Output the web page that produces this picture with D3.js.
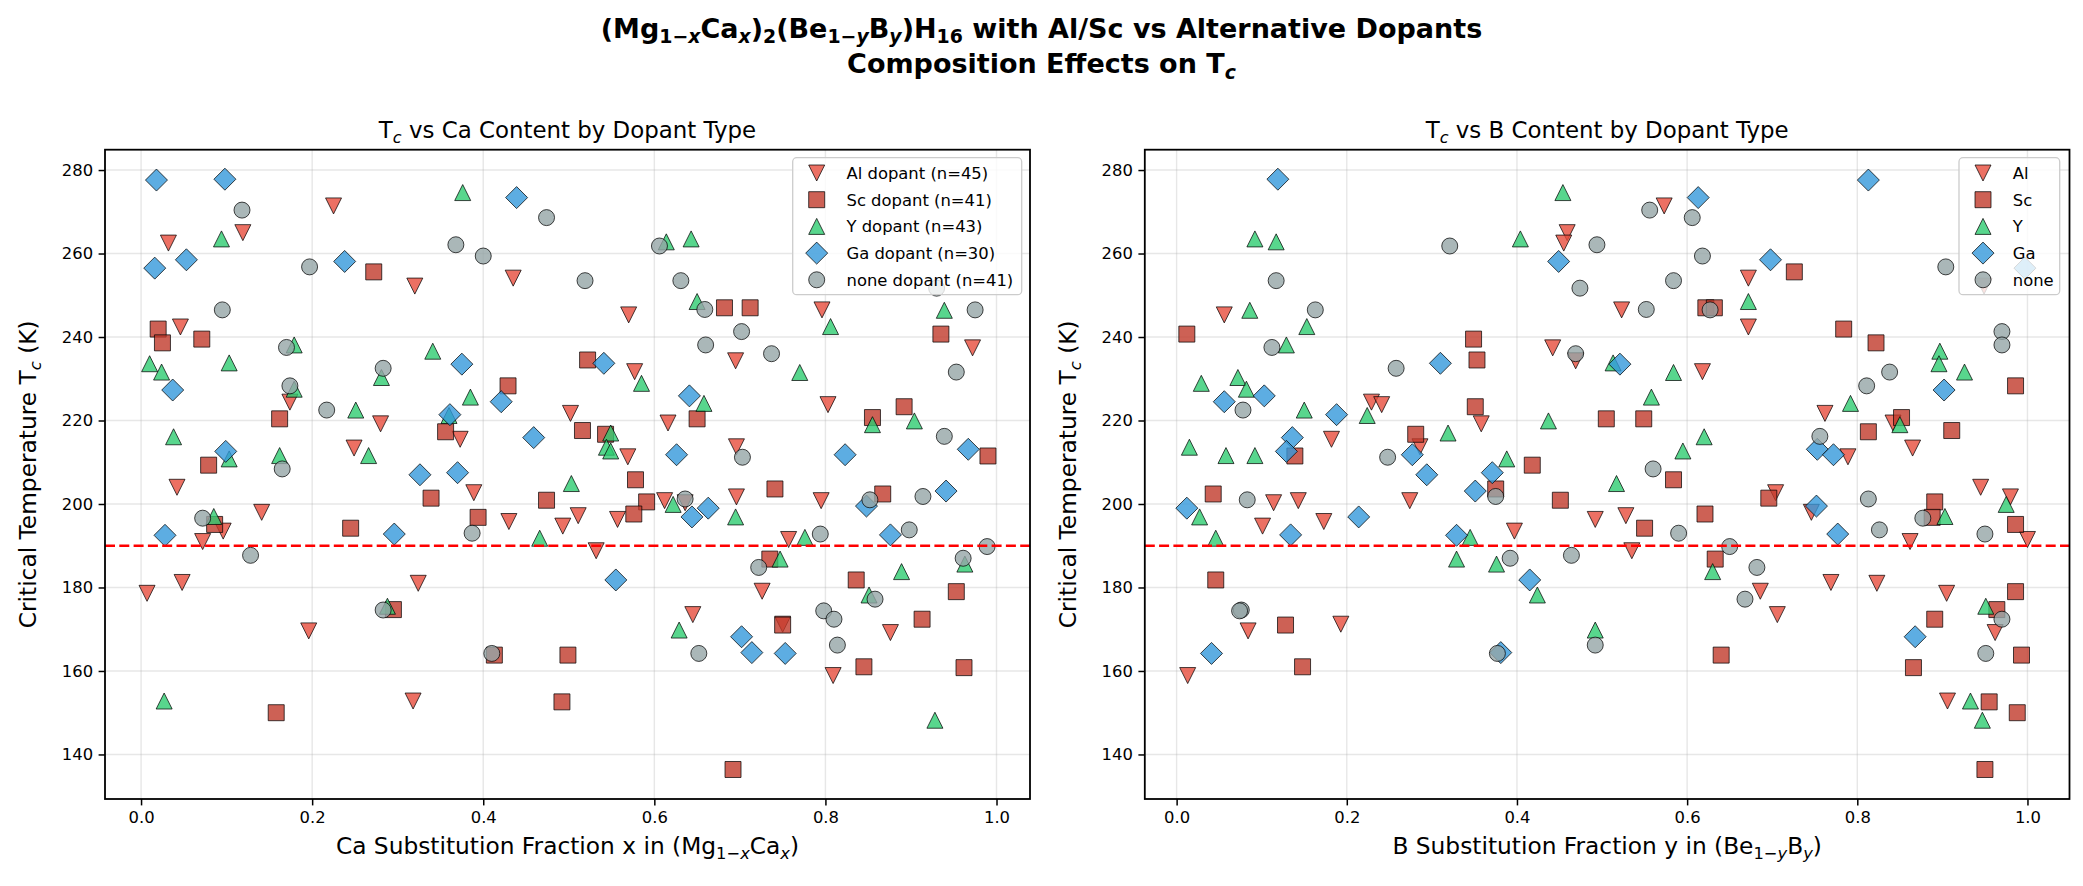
<!DOCTYPE html>
<html>
<head>
<meta charset="utf-8">
<script src="https://cdn.jsdelivr.net/npm/d3@7"></script>
<style>
  body { margin: 0; background: #fff; }
  text { font-family: "DejaVu Sans", sans-serif; }
</style>
</head>
<body>
<svg id="chart" width="2083" height="886"></svg>
<script>
// ---------------- data: [Ca fraction x, B fraction y, Tc (K)] ----------------
const dopantNames = ["Al", "Sc", "Y", "Ga", "none"];

const alData = [[0.225,0.573,271.4],[0.119,0.459,265.0],[0.032,0.455,262.5],[0.435,0.672,254.1],[0.320,0.949,252.2],
  [0.796,0.523,246.5],[0.570,0.056,245.3],[0.046,0.672,242.4],[0.972,0.442,237.4],[0.695,0.469,234.3],[0.577,0.618,231.7],
  [0.174,0.229,224.4],[0.803,0.241,223.8],[0.502,0.762,221.7],[0.616,0.842,219.4],[0.280,0.358,219.2],[0.373,0.182,215.5],
  [0.696,0.286,213.7],[0.249,0.865,213.4],[0.569,0.789,211.3],[0.042,0.945,204.0],[0.389,0.704,202.7],[0.696,0.980,201.7],
  [0.612,0.143,200.8],[0.795,0.274,200.8],[0.636,0.114,200.3],[0.141,0.746,198.0],[0.511,0.528,197.2],[0.557,0.492,196.3],
  [0.430,0.173,195.8],[0.493,0.101,194.7],[0.096,0.397,193.5],[0.757,1.000,191.5],[0.072,0.862,191.0],[0.532,0.535,188.8],
  [0.048,0.769,181.2],[0.324,0.823,181.0],[0.726,0.686,179.1],[0.007,0.905,178.6],[0.645,0.706,173.5],[0.750,0.193,171.2],
  [0.196,0.084,169.6],[0.876,0.962,169.2],[0.809,0.013,158.9],[0.318,0.906,152.8]];

const scData = [[0.272,0.726,255.6],[0.682,0.622,247.0],[0.712,0.632,247.0],[0.020,0.784,241.9],[0.935,0.012,240.7],
  [0.071,0.349,239.5],[0.025,0.822,238.6],[0.522,0.353,234.5],[0.429,0.986,228.3],[0.892,0.351,223.3],[0.855,0.852,220.7],
  [0.162,0.505,220.4],[0.650,0.549,220.4],[0.516,0.911,217.6],[0.356,0.813,217.3],[0.543,0.281,216.7],[0.990,0.139,211.5],
  [0.079,0.418,209.3],[0.578,0.584,205.8],[0.741,0.375,203.6],[0.867,0.043,202.4],[0.339,0.696,201.4],[0.474,0.451,200.9],
  [0.591,0.891,200.5],[0.576,0.621,197.6],[0.394,0.888,196.8],[0.086,0.986,195.1],[0.245,0.550,194.2],[0.735,0.633,186.8],
  [0.836,0.046,181.8],[0.953,0.986,179.0],[0.295,0.964,174.7],[0.913,0.891,172.4],[0.750,0.128,171.0],[0.413,0.640,163.8],
  [0.499,0.993,163.8],[0.845,0.148,161.0],[0.962,0.866,160.8],[0.492,0.955,152.6],[0.158,0.988,150.0],[0.692,0.950,136.4]];

const yData = [[0.376,0.454,274.6],[0.094,0.092,263.5],[0.643,0.404,263.5],[0.614,0.117,262.8],[0.650,0.672,248.5],
  [0.939,0.086,246.4],[0.806,0.153,242.5],[0.179,0.129,238.1],[0.341,0.897,236.6],[0.103,0.513,233.8],[0.010,0.896,233.6],
  [0.024,0.926,231.6],[0.770,0.584,231.5],[0.281,0.072,230.3],[0.585,0.029,228.9],[0.179,0.082,227.5],[0.385,0.558,225.6],
  [0.658,0.792,224.1],[0.251,0.150,222.5],[0.360,0.224,221.2],[0.904,0.437,219.9],[0.855,0.850,219.0],[0.549,0.319,217.0],
  [0.038,0.620,216.1],[0.544,0.015,213.6],[0.549,0.595,212.7],[0.266,0.058,211.6],[0.162,0.092,211.6],[0.103,0.388,210.8],
  [0.503,0.517,204.9],[0.622,0.975,199.9],[0.085,0.903,197.0],[0.695,0.027,196.9],[0.776,0.345,192.0],[0.466,0.046,191.8],
  [0.747,0.329,186.8],[0.963,0.376,185.6],[0.889,0.630,183.8],[0.851,0.424,178.2],[0.288,0.951,175.5],[0.629,0.492,169.8],
  [0.027,0.933,152.8],[0.928,0.947,148.2]];

const gaData = [[0.098,0.119,277.8],[0.018,0.813,277.6],[0.439,0.613,273.4],[0.053,0.698,258.5],[0.238,0.449,258.1],
  [0.016,0.997,256.5],[0.541,0.310,233.7],[0.375,0.521,233.5],[0.037,0.902,227.3],[0.641,0.103,225.9],[0.421,0.056,224.5],
  [0.361,0.188,221.4],[0.459,0.136,215.9],[0.967,0.753,213.1],[0.099,0.129,212.6],[0.626,0.277,211.8],[0.823,0.772,211.8],
  [0.370,0.371,207.5],[0.326,0.294,207.0],[0.941,0.351,203.1],[0.848,0.752,199.5],[0.663,0.012,199.0],[0.644,0.214,196.9],
  [0.296,0.777,192.8],[0.876,0.134,192.6],[0.028,0.329,192.5],[0.555,0.415,181.8],[0.702,0.868,168.2],[0.714,0.381,164.4],
  [0.753,0.041,164.2]];

const noneData = [[0.118,0.556,270.4],[0.474,0.606,268.6],[0.368,0.494,262.1],[0.606,0.321,261.8],[0.400,0.618,259.4],
  [0.197,0.904,256.8],[0.519,0.117,253.5],[0.631,0.584,253.5],[0.930,0.474,251.7],[0.659,0.552,246.6],[0.095,0.163,246.5],
  [0.975,0.627,246.5],[0.702,0.970,241.3],[0.660,0.970,238.1],[0.170,0.112,237.5],[0.737,0.469,236.0],[0.283,0.258,232.5],
  [0.953,0.838,231.6],[0.174,0.811,228.3],[0.217,0.078,222.5],[0.939,0.756,216.2],[0.703,0.248,211.2],[0.165,0.560,208.4],
  [0.914,0.375,201.8],[0.636,0.813,201.2],[0.852,0.083,201.0],[0.072,0.877,196.6],[0.898,0.826,193.8],[0.387,0.590,193.0],
  [0.794,0.950,192.8],[0.989,0.650,189.8],[0.128,0.464,187.7],[0.961,0.392,187.0],[0.722,0.682,184.8],[0.858,0.668,177.2],
  [0.283,0.076,174.6],[0.798,0.074,174.4],[0.810,0.970,172.4],[0.814,0.492,166.2],[0.410,0.377,164.2],[0.652,0.951,164.2]];

const seriesData = [alData, scData, yData, gaData, noneData];
const thresholdTc = 190;

const xTicks = [0.0, 0.2, 0.4, 0.6, 0.8, 1.0];
const yTicks = [140, 160, 180, 200, 220, 240, 260, 280];

// ---------------- style ----------------
const colors = ["#e74c3c", "#c0392b", "#2ecc71", "#3498db", "#95a5a6"];
const m = 8;           // half marker size
const dd = 11;         // half diagonal of diamond
const shapes = [
  `M0,${m}L${-m},${-m}L${m},${-m}Z`,                 // triangle down
  `M${-m},${-m}H${m}V${m}H${-m}Z`,                   // square
  `M0,${-m}L${m},${m}L${-m},${m}Z`,                  // triangle up
  `M0,${-dd}L${dd},0L0,${dd}L${-dd},0Z`,             // diamond
  d3.symbol().type(d3.symbolCircle).size(Math.PI * m * m)()
];

const axTop = 149.7, axBottom = 799;
const tickFont = 16.4, labelFont = 23.3, titleFont = 22.9, legendFont = 16.4, supFont = 27;
const svg = d3.select("#chart");

// text with mathtext-like subscripts
function rich(sel, parts, size) {
  let shift = 0;
  parts.forEach(p => {
    const target = p.sub ? size * 0.22 : 0;
    const ts = sel.append("tspan").text(p.t).attr("dy", target - shift);
    shift = target;
    if (p.sub) ts.attr("font-size", size * 0.7);
    if (p.it) ts.attr("font-style", "italic");
  });
  return sel;
}

function padded(vals) {
  const [lo, hi] = d3.extent(vals), pad = (hi - lo) * 0.05;
  return [lo - pad, hi + pad];
}

const tcDomain = padded(seriesData.flat().map(d => d[2]));

const panels = [
  { idx: 0, left: 105, right: 1030,
    title: [{t: "T"}, {t: "c", sub: true, it: true}, {t: " vs Ca Content by Dopant Type"}],
    xlabel: [{t: "Ca Substitution Fraction x in (Mg"}, {t: "1−", sub: true}, {t: "x", sub: true, it: true},
             {t: "Ca"}, {t: "x", sub: true, it: true}, {t: ")"}],
    legend: dopantNames.map((n, i) => `${n} dopant (n=${seriesData[i].length})`),
    legendX: 792.7, legendW: 229 },
  { idx: 1, left: 1144.8, right: 2069.5,
    title: [{t: "T"}, {t: "c", sub: true, it: true}, {t: " vs B Content by Dopant Type"}],
    xlabel: [{t: "B Substitution Fraction y in (Be"}, {t: "1−", sub: true}, {t: "y", sub: true, it: true},
             {t: "B"}, {t: "y", sub: true, it: true}, {t: ")"}],
    legend: dopantNames,
    legendX: 1959, legendW: 100.7 }
];

panels.forEach(p => {
  const x = d3.scaleLinear()
    .domain(padded(seriesData.flat().map(d => d[p.idx])))
    .range([p.left, p.right]);
  const y = d3.scaleLinear().domain(tcDomain).range([axBottom, axTop]);
  const g = svg.append("g");

  // grid
  g.append("g").selectAll("line").data(xTicks).join("line")
    .attr("x1", d => x(d)).attr("x2", d => x(d))
    .attr("y1", axTop).attr("y2", axBottom)
    .attr("stroke", "#b0b0b0").attr("stroke-opacity", 0.3).attr("stroke-width", 1.4);
  g.append("g").selectAll("line").data(yTicks).join("line")
    .attr("y1", d => y(d)).attr("y2", d => y(d))
    .attr("x1", p.left).attr("x2", p.right)
    .attr("stroke", "#b0b0b0").attr("stroke-opacity", 0.3).attr("stroke-width", 1.4);

  // points
  seriesData.forEach((data, si) => {
    g.append("g").selectAll("path").data(data).join("path")
      .attr("d", shapes[si])
      .attr("transform", d => `translate(${x(d[p.idx])},${y(d[2])})`)
      .attr("fill", colors[si]).attr("fill-opacity", 0.8)
      .attr("stroke", "#000").attr("stroke-opacity", 0.8).attr("stroke-width", 0.9);
  });

  // threshold line
  g.append("line")
    .attr("x1", p.left).attr("x2", p.right)
    .attr("y1", y(thresholdTc)).attr("y2", y(thresholdTc))
    .attr("stroke", "#ff0000").attr("stroke-width", 2.7)
    .attr("stroke-dasharray", "10,4.3");

  // frame
  g.append("rect")
    .attr("x", p.left).attr("y", axTop)
    .attr("width", p.right - p.left).attr("height", axBottom - axTop)
    .attr("fill", "none").attr("stroke", "#000").attr("stroke-width", 1.8);

  // axes
  const xAxis = g.append("g").attr("transform", `translate(0,${axBottom})`)
    .call(d3.axisBottom(x).tickValues(xTicks).tickFormat(d3.format(".1f")).tickSize(6.4).tickPadding(5.5));
  const yAxis = g.append("g").attr("transform", `translate(${p.left},0)`)
    .call(d3.axisLeft(y).tickValues(yTicks).tickSize(6.4).tickPadding(5.5));
  [xAxis, yAxis].forEach(a => {
    a.select(".domain").remove();
    a.attr("font-family", null).attr("font-size", null);
    a.selectAll("line").attr("stroke", "#000").attr("stroke-width", 1.5);
    a.selectAll("text").attr("font-size", tickFont + "px").attr("fill", "#000");
  });

  // title and labels
  rich(g.append("text").attr("x", (p.left + p.right) / 2).attr("y", 137.7)
    .attr("text-anchor", "middle").attr("font-size", titleFont + "px"), p.title, titleFont);
  rich(g.append("text").attr("x", (p.left + p.right) / 2).attr("y", 854)
    .attr("text-anchor", "middle").attr("font-size", labelFont + "px"), p.xlabel, labelFont);
  rich(g.append("text")
    .attr("transform", `translate(${p.left - 69},${(axTop + axBottom) / 2}) rotate(-90)`)
    .attr("text-anchor", "middle").attr("font-size", labelFont + "px"),
    [{t: "Critical Temperature T"}, {t: "c", sub: true, it: true}, {t: " (K)"}], labelFont);

  // legend
  const lg = g.append("g").attr("transform", `translate(${p.legendX},157.7)`);
  lg.append("rect").attr("width", p.legendW).attr("height", 137).attr("rx", 4)
    .attr("fill", "#fff").attr("fill-opacity", 0.8)
    .attr("stroke", "#cccccc").attr("stroke-width", 1.3);
  const rows = lg.selectAll("g.row").data(p.legend).join("g")
    .attr("class", "row")
    .attr("transform", (d, i) => `translate(0,${15.3 + i * 26.7})`);
  rows.append("path")
    .attr("d", (d, i) => shapes[i])
    .attr("transform", "translate(24,0)")
    .attr("fill", (d, i) => colors[i]).attr("fill-opacity", 0.8)
    .attr("stroke", "#000").attr("stroke-opacity", 0.8).attr("stroke-width", 0.9);
  rows.append("text")
    .attr("x", 53.8).attr("dy", "0.36em")
    .attr("font-size", legendFont + "px").text(d => d);
});

// figure title
rich(svg.append("text").attr("x", 1041.5).attr("y", 37.5)
  .attr("text-anchor", "middle").attr("font-size", supFont + "px").attr("font-weight", "bold"),
  [{t: "(Mg"}, {t: "1−", sub: true}, {t: "x", sub: true, it: true}, {t: "Ca"}, {t: "x", sub: true, it: true},
   {t: ")"}, {t: "2", sub: true}, {t: "(Be"}, {t: "1−", sub: true}, {t: "y", sub: true, it: true},
   {t: "B"}, {t: "y", sub: true, it: true}, {t: ")H"}, {t: "16", sub: true},
   {t: " with Al/Sc vs Alternative Dopants"}], supFont);
rich(svg.append("text").attr("x", 1041.5).attr("y", 73)
  .attr("text-anchor", "middle").attr("font-size", supFont + "px").attr("font-weight", "bold"),
  [{t: "Composition Effects on T"}, {t: "c", sub: true, it: true}], supFont);
</script>
</body>
</html>
